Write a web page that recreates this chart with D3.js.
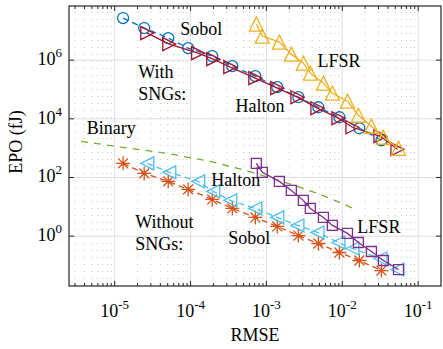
<!DOCTYPE html>
<html>
<head>
<style>
  body{
    margin: 0;
    background: white;
  }
  svg text{
    font-family: "Liberation Serif", "DejaVu Serif", serif;
  }
</style>
</head>
<body>
<svg id='svgVis'></svg>

<script src="https://cdnjs.cloudflare.com/ajax/libs/d3/7.8.5/d3.min.js"></script>
<script>

// RMSE per bit length (x values)
var rmseSobol  = [1.29e-5, 2.45e-5, 5.08e-5, 9.3e-5, 1.93e-4, 3.55e-4, 7.15e-4, 1.39e-3, 2.64e-3, 4.84e-3, 9.17e-3, 1.68e-2, 3.28e-2];
var rmseHalton = [2.69e-5, 5.24e-5, 1.26e-4, 1.99e-4, 3.34e-4, 7.14e-4, 1.39e-3, 2.56e-3, 4.70e-3, 8.89e-3, 1.36e-2, 3.18e-2, 5.33e-2];
var rmseLfsr   = [7.36e-4, 8.83e-4, 1.48e-3, 2.13e-3, 3.07e-3, 3.79e-3, 5.64e-3, 7.40e-3, 1.17e-2, 1.63e-2, 2.42e-2, 3.48e-2, 5.50e-2];
var rmseBinary = [3.61e-6, 1.26e-5, 4.78e-5, 1.82e-4, 6.52e-4, 2.56e-3, 5.14e-3, 8.61e-3, 1.40e-2];

// EPO in fJ
var epoSobolSng   = [2.72e7, 1.24e7, 5.64e6, 2.57e6, 1.37e6, 6.24e5, 2.84e5, 1.20e5, 5.45e4, 2.48e4, 1.13e4, 4.76e3, 1.85e3];
var epoHaltonSng  = [8.36e6, 3.52e6, 1.73e6, 1.08e6, 5.77e5, 2.43e5, 1.11e5, 5.45e4, 2.30e4, 1.05e4, 5.15e3, 2.54e3, 912];
var epoLfsrSng    = [1.70e7, 6.60e6, 4.12e6, 1.60e6, 7.90e5, 3.60e5, 1.64e5, 7.46e4, 3.98e4, 1.32e4, 5.57e3, 2.35e3, 988];
var epoBinary     = [1714, 1069, 667, 356, 150, 49.8, 26.5, 15.3, 8.81];
var epoSobolNo    = [303, 138, 73.7, 39.3, 17.9, 8.81, 4.35, 2.14, 1.05, 0.562, 0.277, 0.148, 0.0673];
var epoHaltonNo   = [303, 150, 73.7, 33.6, 16.6, 8.81, 4.35, 2.32, 1.34, 0.608, 0.379, 0.173, 0.0728];
var epoLfsrNo     = [303, 150, 73.7, 36.3, 16.6, 8.81, 4.35, 2.32, 1.24, 0.608, 0.300, 0.148, 0.0728];

var xTicks = [1e-5, 1e-4, 1e-3, 1e-2, 1e-1];
var xTickExp = ['-5', '-4', '-3', '-2', '-1'];
var yTicks = [1, 1e2, 1e4, 1e6];
var yTickExp = ['0', '2', '4', '6'];

var labels = [
  {lines: ['Sobol'], x: 7.3e-5, y: 7.1e6},
  {lines: ['With', 'SNGs:'], x: 2.04e-5, y: 2.4e5},
  {lines: ['LFSR'], x: 4.7e-3, y: 5.8e5},
  {lines: ['Halton'], x: 3.9e-4, y: 1.7e4},
  {lines: ['Binary'], x: 4.3e-6, y: 2970},
  {lines: ['Halton'], x: 1.87e-4, y: 50},
  {lines: ['Without', 'SNGs:'], x: 1.86e-5, y: 1.83},
  {lines: ['Sobol'], x: 3.14e-4, y: 0.56},
  {lines: ['LFSR'], x: 1.58e-2, y: 1.24}
];

var width = 443, height = 349;
var margin = {top: 6, right: 2, bottom: 63, left: 69};

var svg = d3.select('#svgVis')
  .attr('width', width)
  .attr('height', height);

var x = d3.scaleLog().domain([2.5e-6, 0.2]).range([margin.left, width - margin.right]);
var y = d3.scaleLog().domain([0.02, 7e7]).range([height - margin.bottom, margin.top]);

var x0 = x.range()[0], x1 = x.range()[1], y0 = y.range()[0], y1 = y.range()[1];

// minor x values
var xMinor = [];
[1e-6, 1e-5, 1e-4, 1e-3, 1e-2, 1e-1].forEach(function(d) {
  for (var k = 2; k <= 9; k++) {
    var v = d * k;
    if (v > x.domain()[0] && v < x.domain()[1]) xMinor.push(v);
  }
});

// grid
var grid = svg.append('g');
grid.selectAll('.xminor').data(xMinor).enter().append('line')
  .attr('x1', function(d) { return x(d); }).attr('x2', function(d) { return x(d); })
  .attr('y1', y0).attr('y2', y1)
  .attr('stroke', '#b5b5b5').attr('stroke-width', 0.8)
  .attr('stroke-dasharray', '1,6');
grid.selectAll('.xmajor').data(xTicks).enter().append('line')
  .attr('x1', function(d) { return x(d); }).attr('x2', function(d) { return x(d); })
  .attr('y1', y0).attr('y2', y1)
  .attr('stroke', '#dedede').attr('stroke-width', 1);
grid.selectAll('.ymajor').data(yTicks).enter().append('line')
  .attr('x1', x0).attr('x2', x1)
  .attr('y1', function(d) { return y(d); }).attr('y2', function(d) { return y(d); })
  .attr('stroke', '#dedede').attr('stroke-width', 1);

// marker shapes
function markerPath(type, s) {
  var h = s / 2;
  if (type === 'up') return 'M0,' + (-h) + 'L' + h + ',' + h + 'L' + (-h) + ',' + h + 'Z';
  if (type === 'right') return 'M' + h + ',0L' + (-h) + ',' + (-h) + 'L' + (-h) + ',' + h + 'Z';
  if (type === 'left') return 'M' + (-h) + ',0L' + h + ',' + (-h) + 'L' + h + ',' + h + 'Z';
  if (type === 'square') return 'M' + (-h) + ',' + (-h) + 'H' + h + 'V' + h + 'H' + (-h) + 'Z';
  if (type === 'star') {
    var d = h * 0.7071;
    return 'M' + (-h) + ',0H' + h + 'M0,' + (-h) + 'V' + h +
      'M' + (-d) + ',' + (-d) + 'L' + d + ',' + d + 'M' + (-d) + ',' + d + 'L' + d + ',' + (-d);
  }
  return '';
}

var series = [
  {xs: rmseSobol,  ys: epoSobolSng,  color: '#0072BD', dash: '6,4',  marker: 'circle', size: 11},
  {xs: rmseHalton, ys: epoHaltonSng, color: '#A2142F', dash: null,   marker: 'right',  size: 13},
  {xs: rmseLfsr,   ys: epoLfsrSng,   color: '#EDB120', dash: null,   marker: 'up',     size: 14},
  {xs: rmseBinary, ys: epoBinary,    color: '#77AC30', dash: '7,6',  marker: null,     size: 0},
  {xs: rmseSobol,  ys: epoSobolNo,   color: '#D95319', dash: '6,4',  marker: 'star',   size: 14},
  {xs: rmseHalton, ys: epoHaltonNo,  color: '#4DBEEE', dash: '6,4',  marker: 'left',   size: 13},
  {xs: rmseLfsr,   ys: epoLfsrNo,    color: '#7E2F8E', dash: null,   marker: 'square', size: 10}
];

var line = d3.line()
  .x(function(d) { return x(d[0]); })
  .y(function(d) { return y(d[1]); });

var plot = svg.append('g');

series.forEach(function(s) {
  var pts = s.xs.map(function(v, i) { return [v, s.ys[i]]; });
  var g = plot.append('g');
  g.append('path')
    .attr('d', line(pts))
    .attr('fill', 'none')
    .attr('stroke', s.color)
    .attr('stroke-width', 1.3)
    .attr('stroke-dasharray', s.dash);
  if (!s.marker) return;
  if (s.marker === 'circle') {
    g.selectAll('circle').data(pts).enter().append('circle')
      .attr('cx', function(d) { return x(d[0]); })
      .attr('cy', function(d) { return y(d[1]); })
      .attr('r', s.size / 2)
      .attr('fill', 'none')
      .attr('stroke', s.color)
      .attr('stroke-width', 1.3);
  } else {
    g.selectAll('.mk').data(pts).enter().append('path')
      .attr('transform', function(d) { return 'translate(' + x(d[0]) + ',' + y(d[1]) + ')'; })
      .attr('d', markerPath(s.marker, s.size))
      .attr('fill', 'none')
      .attr('stroke', s.color)
      .attr('stroke-width', 1.3);
  }
});

// axes box and ticks
var ax = svg.append('g');
ax.append('rect')
  .attr('x', x0).attr('y', y1)
  .attr('width', x1 - x0).attr('height', y0 - y1)
  .attr('fill', 'none').attr('stroke', '#262626').attr('stroke-width', 1.2);

ax.selectAll('.xt').data(xTicks).enter().append('path')
  .attr('d', function(d) {
    var px = x(d);
    return 'M' + px + ',' + y0 + 'V' + (y0 - 5) + 'M' + px + ',' + y1 + 'V' + (y1 + 5);
  })
  .attr('stroke', '#262626').attr('stroke-width', 1);
ax.selectAll('.xm').data(xMinor).enter().append('path')
  .attr('d', function(d) {
    var px = x(d);
    return 'M' + px + ',' + y0 + 'V' + (y0 - 3) + 'M' + px + ',' + y1 + 'V' + (y1 + 3);
  })
  .attr('stroke', '#262626').attr('stroke-width', 1);
ax.selectAll('.yt').data(yTicks).enter().append('path')
  .attr('d', function(d) {
    var py = y(d);
    return 'M' + x0 + ',' + py + 'H' + (x0 + 5) + 'M' + x1 + ',' + py + 'H' + (x1 - 5);
  })
  .attr('stroke', '#262626').attr('stroke-width', 1);

// tick labels
ax.selectAll('.xl').data(xTicks).enter().append('text')
  .attr('x', function(d) { return x(d); })
  .attr('y', y0 + 31)
  .attr('text-anchor', 'middle')
  .style('font-size', '18px')
  .each(function(d, i) {
    var t = d3.select(this);
    t.append('tspan').text('10');
    t.append('tspan').attr('dy', -8).style('font-size', '13px').text(xTickExp[i]);
  });

ax.selectAll('.yl').data(yTicks).enter().append('text')
  .attr('x', x0 - 7)
  .attr('y', function(d) { return y(d) + 5; })
  .attr('text-anchor', 'end')
  .style('font-size', '18px')
  .each(function(d, i) {
    var t = d3.select(this);
    t.append('tspan').text('10');
    t.append('tspan').attr('dy', -8).style('font-size', '13px').text(yTickExp[i]);
  });

// axis titles
svg.append('text')
  .attr('x', (x0 + x1) / 2)
  .attr('y', 341)
  .attr('text-anchor', 'middle')
  .style('font-size', '18px')
  .text('RMSE');

svg.append('text')
  .attr('transform', 'translate(22,' + ((y0 + y1) / 2 - 4) + ') rotate(-90)')
  .attr('text-anchor', 'middle')
  .style('font-size', '18px')
  .text('EPO (fJ)');

// annotations
labels.forEach(function(l) {
  var t = svg.append('text')
    .attr('x', x(l.x))
    .attr('y', y(l.y))
    .style('font-size', '18px');
  l.lines.forEach(function(s, i) {
    t.append('tspan')
      .attr('x', x(l.x))
      .attr('dy', i === 0 ? 0 : 22)
      .text(s);
  });
});

</script>
</body>
</html>
